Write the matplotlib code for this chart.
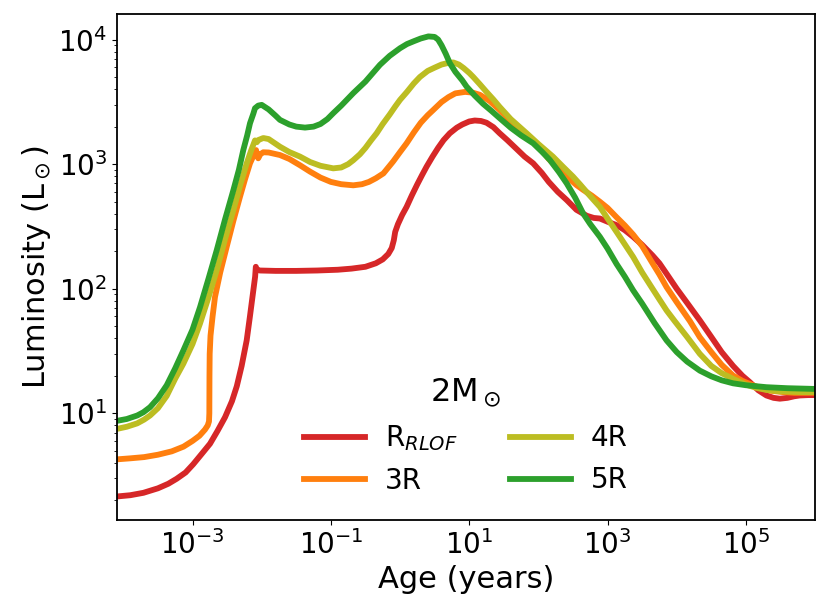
import numpy as np
import matplotlib
matplotlib.use('Agg')
import matplotlib.pyplot as plt
from matplotlib.ticker import NullLocator

# log10(age / yr) and luminosity (Lsun)
red_logt = [-4.09, -3.9, -3.71, -3.5, -3.35, -3.23, -3.1, -2.99, -2.87, -2.747, -2.64, -2.53,
            -2.43, -2.36, -2.29, -2.217, -2.17, -2.121, -2.095, -2.085, -2.07, -2.025, -1.8,
            -1.5, -1.2, -0.9, -0.7, -0.5, -0.35, -0.25, -0.17, -0.12, -0.09, -0.07, -0.03,
            0.03, 0.095, 0.17, 0.25, 0.32, 0.384, 0.47, 0.55, 0.63, 0.72, 0.82, 0.9, 1.0,
            1.08, 1.17, 1.25, 1.35, 1.44, 1.55, 1.7, 1.8, 1.925, 2.05, 2.15, 2.28, 2.41,
            2.55, 2.7, 2.8, 2.889, 3.0, 3.13, 3.25, 3.37, 3.5, 3.65, 3.75, 3.853, 4.0, 4.15,
            4.334, 4.5, 4.65, 4.815, 4.95, 5.056, 5.18, 5.297, 5.4, 5.49, 5.6, 5.7, 5.779,
            5.9, 6.0]
red_L = [2.15, 2.2, 2.3, 2.5, 2.72, 2.98, 3.35, 3.9, 4.7, 5.7, 7.2, 9.3,
         12.5, 16.5, 24, 38.5, 60, 97, 125, 150, 142, 140, 139,
         139, 140, 142, 145, 150, 160, 172, 190, 212, 245, 286, 330,
         390, 454, 560, 690, 820, 955, 1150, 1350, 1560, 1770, 1960, 2080, 2200,
         2240, 2220, 2150, 1980, 1770, 1560, 1300, 1150, 1015, 850, 720, 600, 515,
         430, 385, 370, 366, 345, 324, 295, 261, 225, 185, 160, 132, 100, 77,
         55.7, 41, 31, 24, 20, 17.8, 15.3, 13.9, 13.3, 13.1, 13.3, 13.7, 13.9,
         14.0, 14.0]

orange_logt = [-4.09, -3.9, -3.7, -3.5, -3.3, -3.13, -3.0, -2.9, -2.82, -2.78, -2.762,
               -2.757, -2.755, -2.752, -2.74, -2.71, -2.675, -2.6, -2.506, -2.41, -2.314,
               -2.24, -2.169, -2.11, -2.082, -2.065, -2.05, -2.02, -1.977, -1.9, -1.736,
               -1.6, -1.447, -1.3, -1.15, -1.0, -0.85, -0.676, -0.55, -0.45, -0.35, -0.24,
               -0.1, 0.0, 0.095, 0.2, 0.3, 0.4, 0.48, 0.6, 0.7, 0.8, 0.94, 1.05, 1.155,
               1.3, 1.44, 1.57, 1.7, 1.8, 1.925, 2.05, 2.15, 2.28, 2.41, 2.55, 2.65, 2.77,
               2.889, 3.0, 3.13, 3.25, 3.37, 3.5, 3.65, 3.75, 3.853, 4.0, 4.19, 4.334, 4.5,
               4.65, 4.815, 4.95, 5.056, 5.2, 5.35, 5.537, 5.7, 5.85, 6.0]
orange_L = [4.27, 4.35, 4.45, 4.65, 4.95, 5.4, 6.0, 6.6, 7.4, 8.0, 8.6,
            10, 20, 30, 42, 60, 86, 135, 217, 350, 547,
            760, 1015, 1200, 1297, 1180, 1114, 1200, 1245, 1240, 1183,
            1100, 980, 870, 780, 720, 690, 676, 690, 720, 770, 843,
            1050, 1250, 1470, 1800, 2150, 2470, 2720, 3150, 3450, 3700, 3800, 3750, 3600,
            3200, 2720, 2300, 1950, 1750, 1550, 1300, 1100, 930, 795, 680, 620, 560,
            499, 445, 375, 322, 272, 220, 160, 130, 103, 78, 55, 40.8, 31,
            24.5, 20.1, 18.2, 17.2, 16.0, 15.2, 14.8, 14.6, 14.6, 14.6]

olive_logt = [-4.09, -3.95, -3.8, -3.7, -3.614, -3.5, -3.373, -3.25, -3.133, -3.0, -2.892, -2.77,
              -2.65, -2.53, -2.41, -2.31, -2.217, -2.15, -2.097, -2.07, -2.05, -1.977, -1.9,
              -1.736, -1.6, -1.447, -1.3, -1.15, -0.965, -0.85, -0.75, -0.676, -0.58, -0.5,
              -0.42, -0.338, -0.25, -0.15, -0.07, 0.0, 0.1, 0.2, 0.288, 0.4, 0.5, 0.6, 0.7,
              0.77, 0.85, 0.92, 1.0, 1.058, 1.15, 1.25, 1.35, 1.44, 1.6, 1.83, 2.0, 2.21,
              2.35, 2.5, 2.6, 2.7, 2.8, 2.889, 3.0, 3.13, 3.25, 3.37, 3.5, 3.65, 3.75, 3.853,
              3.97, 4.15, 4.334, 4.5, 4.65, 4.815, 5.0, 5.15, 5.297, 5.5, 5.8, 6.0]
olive_L = [7.5, 7.8, 8.3, 8.9, 9.6, 11.0, 13.8, 19, 25, 36, 52.5, 85,
           141, 250, 427, 680, 1015, 1300, 1550, 1500, 1560, 1620, 1590,
           1380, 1250, 1150, 1040, 970, 925, 940, 1000, 1075, 1200, 1350,
           1550, 1770, 2100, 2500, 2900, 3280, 3800, 4450, 5010, 5600, 5950, 6300, 6500,
           6550, 6300, 5900, 5400, 5010, 4400, 3800, 3300, 2880, 2300, 1770, 1450, 1150,
           960, 795, 690, 595, 515, 454, 366, 286, 227, 180, 135, 100, 82, 67,
           55, 41, 30, 24, 21, 18.9, 17, 16, 15.4, 15.0, 14.8, 14.8]

green_logt = [-4.09, -3.95, -3.8, -3.71, -3.614, -3.5, -3.373, -3.25, -3.133, -3.0, -2.892, -2.77,
              -2.65, -2.53, -2.41, -2.33, -2.266, -2.21, -2.169, -2.12, -2.097, -2.05, -2.0,
              -1.9, -1.8, -1.736, -1.6, -1.5, -1.374, -1.25, -1.15, -1.05, -0.965, -0.85,
              -0.676, -0.5, -0.29, -0.15, 0.0, 0.1, 0.2, 0.3, 0.41, 0.5, 0.55, 0.6, 0.66,
              0.72, 0.8, 0.9, 0.962, 1.08, 1.2, 1.32, 1.44, 1.6, 1.75, 1.925, 2.05, 2.166,
              2.3, 2.41, 2.53, 2.647, 2.75, 2.889, 3.0, 3.13, 3.25, 3.37, 3.5, 3.68, 3.853,
              4.0, 4.15, 4.334, 4.5, 4.65, 4.815, 5.0, 5.297, 5.6, 5.97, 6.0]
green_L = [8.7, 9.0, 9.6, 10.2, 11.2, 13.2, 16.8, 23, 31.9, 47, 71, 120,
           204, 360, 617, 900, 1297, 1700, 2130, 2550, 2810, 2950, 2990,
           2750, 2450, 2265, 2080, 2000, 1965, 2000, 2100, 2300, 2565, 2950,
           3715, 4600, 6270, 7400, 8520, 9200, 9700, 10200, 10600, 10500, 10000, 9000, 7700,
           6460, 5500, 4700, 4190, 3550, 3050, 2680, 2340, 1960, 1700, 1470, 1260, 1080,
           860, 700, 540, 402, 330, 261, 210, 158, 125, 97, 76, 53, 38.5,
           31, 26, 22, 19.8, 18.4, 17.4, 16.8, 16.2, 15.9, 15.7, 15.7]

series = [
    (red_logt, red_L, '#d62728', r'R$_{RLOF}$'),
    (orange_logt, orange_L, '#ff7f0e', '3R'),
    (olive_logt, olive_L, '#bcbd22', '4R'),
    (green_logt, green_L, '#2ca02c', '5R'),
]

fig = plt.figure(figsize=(8.3, 6.14), dpi=100)
ax = fig.add_axes([0.141, 0.153, 0.841, 0.824])

for logt, L, c, lab in series:
    ax.plot(10 ** np.array(logt), L, color=c, lw=4.2, label=lab,
            solid_joinstyle='round')

ax.set_xscale('log')
ax.set_yscale('log')
ax.set_xlim(8.1e-5, 1e6)
ax.set_ylim(1.39, 1.6e4)
ax.set_xticks([1e-3, 1e-1, 1e1, 1e3, 1e5])
ax.xaxis.set_minor_locator(NullLocator())
ax.tick_params(labelsize=20)
ax.set_xlabel('Age (years)', fontsize=22)
ax.set_ylabel(r'Luminosity (L$_\odot$)', fontsize=22)
for s in ax.spines.values():
    s.set_linewidth(1.3)

ax.legend(ncol=2, frameon=False, fontsize=20, title=r'2M$_\odot$', title_fontsize=23,
          loc='lower center', handlelength=2.2, handletextpad=0.7, columnspacing=1.9)

fig.savefig('out.png', dpi=100)
